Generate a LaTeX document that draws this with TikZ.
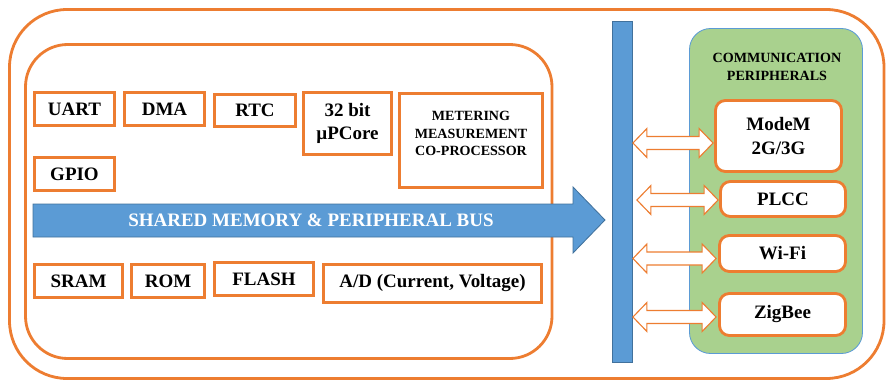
\documentclass[tikz,border=0pt]{standalone}
\usepackage{fontspec}
\setmainfont{Liberation Serif}
\usetikzlibrary{calc}
\definecolor{offorange}{HTML}{ED7D31}
\definecolor{busblue}{HTML}{5B9BD5}
\definecolor{busedge}{HTML}{41719C}
\definecolor{commgreen}{HTML}{A9D18E}
\tikzset{
  blk/.style={draw=offorange, line width=2pt, fill=white, align=center, inner sep=0pt, font=\fontsize{13.5}{16.5}\selectfont\bfseries},
  rblk/.style={blk, rounded corners=7pt},
  sz/.style 2 args={minimum width=#1*0.025cm, minimum height=#2*0.025cm},
  frame/.style={draw=offorange, line width=2pt},
  bus/.style={fill=busblue, draw=busedge, line width=0.6pt},
  link/.style={draw=offorange, fill=white, line width=0.8pt, line join=miter},
  lab/.style={align=center, inner sep=0pt, font=\fontsize{10}{12.6}\selectfont\bfseries}
}
% fat double arrow between two points on one row
\newcommand{\fatlink}[2]{%
  \draw[link] (#1) -- ++(14,-14.5) -- ++(0,8) -- ($(#2)+(-14,-6.5)$) -- ++(0,-8) -- (#2)
    -- ++(-14,14.5) -- ++(0,-8) -- ($(#1)+(14,6.5)$) -- ++(0,8) -- cycle;}

\begin{document}
\begin{tikzpicture}[x=0.025cm, y=-0.025cm]
\useasboundingbox (0,0) rectangle (890,382);
% ---- frames ----
\draw[frame, rounded corners=41pt] (9.5,9.5) rectangle (884,378.5);
\draw[frame, rounded corners=30pt] (25.5,44.5) rectangle (552,358.5);
% ---- top row ----
\node[blk, sz={80}{33}] (uart) at (74.5,109) {UART};
\node[blk, sz={80}{33}] (dma) at (164.5,109) {DMA};
\node[blk, sz={81}{32}] (rtc) at (255,110.5) {RTC};
\node[blk, sz={88}{62}] (core) at (347.5,123.5) {32 bit\\µPCore};
\node[blk, sz={143}{94}] (meter) at (471,140.5) {};
\node[lab] (metertxt) at (471,133.5) {METERING\\MEASUREMENT\\CO-PROCESSOR};
\node[blk, sz={80}{33}] (gpio) at (74.5,174) {GPIO};
% ---- shared bus ----
\draw[bus] (33,204) -- (573,204) -- (573,187) -- (605,220) -- (573,253) -- (573,237) -- (33,237) -- cycle;
\node[font=\fontsize{13.5}{16}\selectfont\bfseries, text=white] (busname) at (311,220) {SHARED MEMORY \& PERIPHERAL BUS};
% ---- bottom row ----
\node[blk, sz={88}{33}] (sram) at (78.5,281) {SRAM};
\node[blk, sz={73}{33}] (rom) at (168,281) {ROM};
\node[blk, sz={99}{33}] (flash) at (264,279) {FLASH};
\node[blk, sz={218}{38}] (adc) at (432.5,283.5) {A/D (Current, Voltage)};
% ---- vertical bus ----
\node[bus, sz={20}{341}] (bar) at (622.5,192) {};
% ---- communication peripherals ----
\node[draw=busblue, fill=commgreen, line width=0.6pt, rounded corners=15pt, sz={173}{325}] (comm) at (776,191) {};
\node[lab] (commtitle) at (777,67) {COMMUNICATION\\PERIPHERALS};
\node[rblk, sz={126}{71}] (modem) at (778.5,136) {ModeM\\2G/3G};
\node[rblk, sz={125}{35}] (plcc) at (783,199) {PLCC};
\node[rblk, sz={126}{36}] (wifi) at (782.5,253.5) {Wi-Fi};
\node[rblk, sz={126}{42}] (zigbee) at (782.5,314.5) {ZigBee};
% links from the bus
\coordinate (m1) at ($(bar.east |- modem.west)+(0,7)$);
\coordinate (m2) at ($(modem.west)+(-1,7)$);
\coordinate (p1) at ($(bar.east |- plcc.west)+(4,1)$);
\coordinate (p2) at ($(plcc.west)+(-1,1)$);
\coordinate (w1) at ($(bar.east |- wifi.west)+(0,5)$);
\coordinate (w2) at ($(wifi.west)+(-2,5)$);
\coordinate (z1) at ($(bar.east |- zigbee.west)+(0,2.5)$);
\coordinate (z2) at ($(zigbee.west)+(-2,2.5)$);
\fatlink{m1}{m2}
\fatlink{p1}{p2}
\fatlink{w1}{w2}
\fatlink{z1}{z2}
\end{tikzpicture}
\end{document}
